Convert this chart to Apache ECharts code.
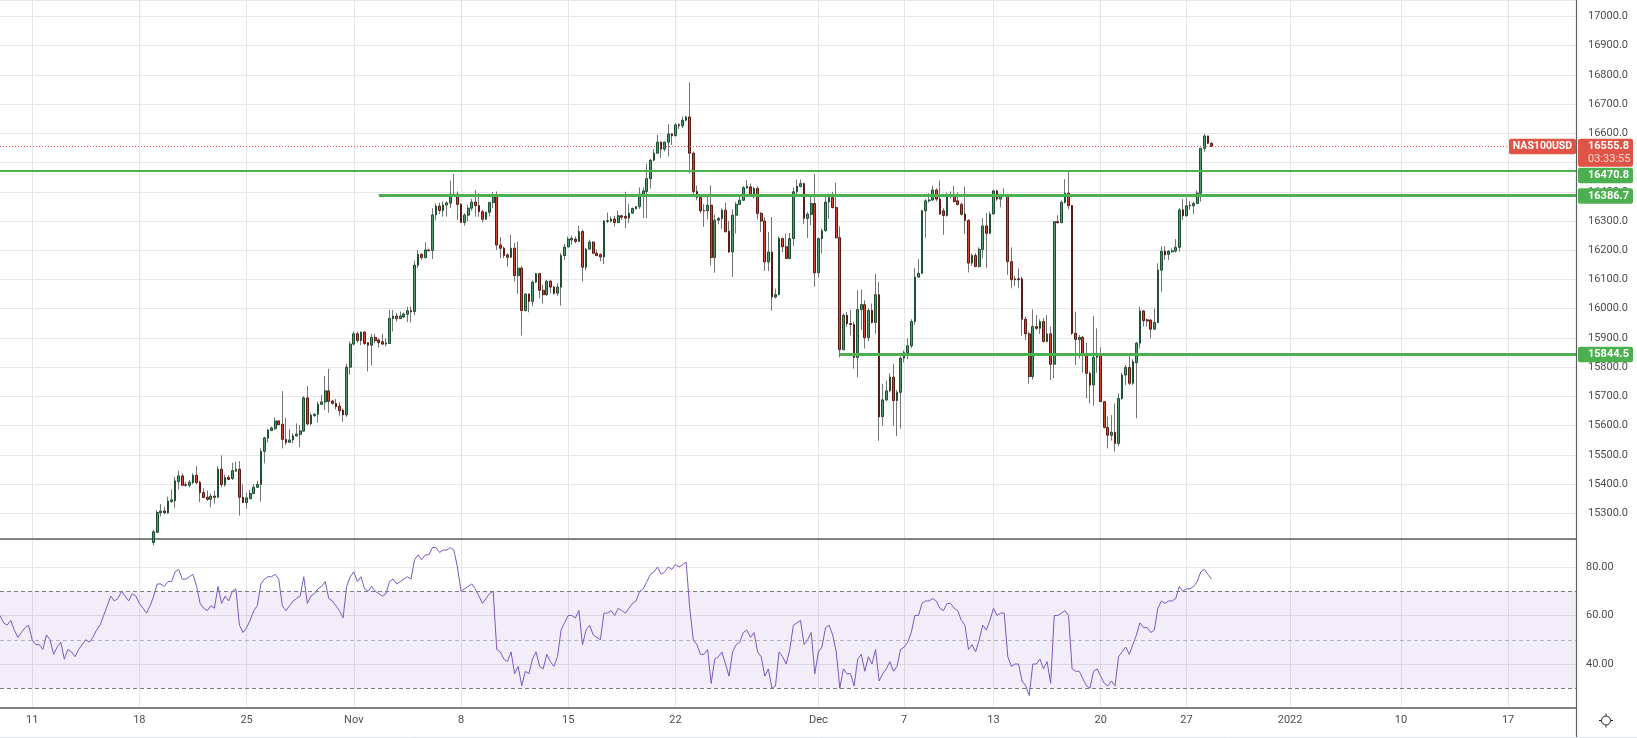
<!DOCTYPE html>
<html><head><meta charset="utf-8">
<script src="https://cdn.jsdelivr.net/npm/echarts@6/dist/echarts.min.js"></script>
<style>html,body{margin:0;padding:0;background:#fff;}#c{width:1637px;height:738px;}</style>
</head><body><div id="c"></div>
<script>
// ---- slots (4h bars), index 0 = first bar of the week of Oct 18 ----
const firstBarIdx = -39, lastSlotIdx = 402, firstCandleIdx = 4;
const tickIdx  = [-30, 0, 30, 60, 90, 120, 150, 190, 214, 239, 269, 293, 322, 353, 383];
const tickText = ['11','18','25','Nov','8','15','22','Dec','7','13','20','27','2022','10','17'];

// ---- candles, bars 4..300 ----
const opens = [
15200,15235,15302,15308,15302,15340,15343,15408,15428,15398,
15396,15405,15430,15406,15371,15355,15348,15359,15355,15451,
15398,15423,15419,15444,15451,15355,15337,15350,15368,15389,
15399,15512,15557,15583,15590,15616,15605,15553,15543,15551,
15565,15570,15581,15695,15606,15634,15639,15673,15681,15719,
15684,15676,15667,15653,15637,15800,15879,15914,15891,15920,
15884,15875,15902,15893,15887,15879,15881,15966,15975,15966,
15972,15981,15993,15990,16149,16186,16175,16201,16199,16321,
16351,16336,16355,16361,16392,16392,16357,16295,16320,16344,
16365,16353,16332,16306,16330,16363,16386,16218,16207,16184,
16176,16207,16113,16139,15994,16050,16025,16091,16120,16063,
16048,16094,16074,16053,16074,16182,16211,16235,16238,16230,
16264,16142,16204,16228,16190,16185,16177,16299,16300,16307,
16295,16318,16316,16310,16327,16342,16349,16390,16401,16445,
16508,16532,16570,16546,16570,16598,16592,16629,16626,16645,
16656,16532,16401,16381,16336,16335,16354,16175,16303,16309,
16337,16265,16194,16320,16357,16371,16413,16417,16391,16411,
16326,16300,16160,16194,16040,16048,16240,16212,16172,16240,
16400,16418,16428,16309,16323,16360,16123,16240,16267,16365,
16380,16346,16243,15860,15978,15949,15946,15833,15997,16014,
15901,15994,15953,16048,15631,15688,15719,15766,15686,15714,
15831,15850,15873,15956,16108,16121,16335,16369,16372,16406,
16375,16335,16319,16384,16391,16369,16357,16324,16302,16156,
16182,16144,16203,16283,16258,16324,16403,16375,16389,16386,
16161,16102,16102,16102,15964,15914,15768,15939,15933,15956,
15888,15914,15810,16298,16294,16364,16395,16353,15916,15895,
15902,15844,15779,15739,15834,15844,15682,15594,15567,15577,
15539,15693,15773,15799,15745,15815,15882,15992,15962,15961,
15930,15953,16132,16197,16186,16195,16197,16210,16338,16318,
16354,16352,16360,16395,16549,16591,16566];
const highs = [
15243,15311,15332,15323,15357,15382,15425,15445,15437,15407,
15414,15437,15462,15412,15386,15378,15368,15378,15462,15498,
15433,15431,15473,15476,15479,15399,15370,15380,15400,15412,
15522,15562,15589,15597,15628,15619,15718,15627,15589,15574,
15608,15602,15701,15736,15644,15642,15682,15705,15770,15794,
15688,15691,15680,15659,15812,15888,15922,15922,15922,15922,
15885,15914,15914,15899,15914,15899,15996,15996,15985,15990,
15987,16007,16007,16164,16201,16190,16227,16205,16344,16361,
16363,16367,16367,16438,16461,16401,16361,16327,16355,16376,
16406,16395,16338,16332,16367,16399,16401,16245,16213,16190,
16253,16226,16230,16145,16053,16053,16096,16122,16122,16082,
16099,16099,16079,16088,16190,16222,16247,16250,16247,16284,
16270,16207,16236,16231,16202,16190,16304,16329,16316,16318,
16336,16321,16400,16359,16346,16352,16415,16415,16496,16512,
16546,16595,16572,16572,16632,16601,16635,16635,16658,16660,
16774,16538,16421,16383,16357,16383,16422,16323,16314,16343,
16362,16300,16339,16365,16383,16419,16440,16428,16417,16419,
16331,16314,16263,16314,16069,16248,16243,16257,16259,16415,
16442,16442,16431,16331,16383,16460,16243,16274,16383,16394,
16400,16431,16282,15984,15989,15995,15955,16063,16066,16029,
16001,16018,16120,16092,15743,15754,15779,15811,15722,15837,
15857,15899,15964,16139,16170,16338,16375,16395,16421,16412,
16438,16344,16397,16401,16420,16398,16363,16418,16306,16188,
16190,16210,16310,16327,16332,16407,16407,16393,16412,16389,
16210,16112,16138,16110,15973,15922,15998,15979,15964,15968,
15979,15939,16298,16320,16370,16443,16469,16355,15990,15910,
15907,15884,15785,15975,15933,15868,15684,15631,15636,15676,
15710,15781,15807,15847,15827,15887,16007,15996,15966,15964,
16001,16155,16214,16214,16201,16207,16238,16344,16375,16381,
16368,16366,16404,16549,16598,16592,16569];
const lows = [
15190,15233,15289,15298,15298,15336,15319,15382,15396,15391,
15389,15400,15400,15338,15354,15343,15321,15334,15355,15389,
15391,15414,15414,15444,15292,15337,15316,15350,15366,15389,
15340,15471,15542,15583,15585,15603,15522,15534,15543,15540,
15562,15526,15581,15600,15602,15631,15611,15671,15654,15644,
15672,15656,15634,15613,15630,15774,15875,15884,15876,15876,
15785,15806,15882,15867,15876,15871,15881,15922,15956,15966,
15968,15954,15953,15978,16139,16167,16172,16196,16170,16302,
16324,16315,16315,16344,16386,16304,16295,16284,16298,16336,
16315,16315,16295,16304,16315,16344,16201,16173,16173,16144,
16173,16093,16051,15908,15991,15988,16008,16088,16035,16017,
16044,16053,16048,16044,16011,16167,16211,16219,16224,16230,
16093,16131,16202,16188,16179,16162,16153,16293,16295,16281,
16293,16304,16276,16293,16325,16339,16341,16310,16310,16411,
16504,16530,16515,16538,16521,16560,16589,16614,16618,16641,
16464,16385,16371,16326,16280,16306,16147,16123,16289,16274,
16263,16191,16109,16257,16354,16369,16411,16383,16377,16305,
16263,16129,16129,15993,16035,16046,16194,16172,16168,16214,
16385,16415,16289,16242,16286,16075,16106,16189,16263,16308,
16343,16240,15833,15858,15938,15909,15795,15765,15927,15864,
15889,15949,15915,15548,15600,15684,15714,15600,15565,15590,
15816,15827,15865,15945,16108,16121,16243,16363,16369,16367,
16321,16253,16315,16378,16363,16352,16318,16256,16124,16147,
16144,16142,16173,16139,16256,16324,16369,16347,16384,16116,
16070,16078,16070,15908,15893,15743,15757,15927,15914,15884,
15884,15756,15762,16292,16294,16360,16340,15910,15807,15830,
15781,15693,15676,15668,15781,15682,15591,15522,15549,15511,
15530,15688,15739,15739,15739,15625,15864,15939,15939,15899,
15927,15950,16058,16167,16167,16192,16192,16195,16303,16315,
16338,16324,16360,16366,16537,16563,16554];
const closes = [
15237,15303,15308,15302,15342,15346,15411,15428,15396,15396,
15406,15430,15405,15371,15354,15348,15359,15355,15451,15398,
15423,15416,15446,15451,15355,15337,15353,15368,15389,15399,
15512,15558,15585,15592,15616,15603,15553,15542,15551,15565,
15571,15582,15695,15606,15636,15639,15673,15681,15719,15683,
15676,15665,15651,15637,15800,15879,15914,15891,15920,15881,
15875,15902,15891,15884,15879,15883,15967,15975,15966,15975,
15982,15993,15989,16149,16186,16175,16201,16199,16321,16351,
16336,16355,16362,16392,16386,16357,16295,16320,16344,16365,
16353,16332,16306,16330,16363,16386,16218,16207,16182,16176,
16207,16113,16139,15994,16050,16025,16091,16120,16063,16048,
16094,16074,16053,16074,16182,16211,16238,16241,16230,16264,
16142,16204,16228,16190,16182,16177,16300,16301,16307,16295,
16318,16313,16310,16327,16343,16349,16392,16403,16445,16508,
16532,16570,16546,16570,16598,16592,16629,16626,16645,16656,
16532,16401,16381,16335,16334,16354,16175,16303,16309,16337,
16263,16194,16320,16357,16371,16414,16419,16391,16411,16326,
16300,16160,16194,16040,16048,16240,16212,16172,16240,16400,
16419,16428,16309,16323,16360,16123,16240,16267,16365,16380,
16346,16243,15860,15978,15949,15946,15833,15997,16014,15901,
15994,15953,16048,15630,15688,15719,15766,15686,15714,15831,
15850,15873,15956,16108,16121,16335,16369,16372,16406,16375,
16324,16319,16384,16391,16367,16357,16323,16302,16156,16182,
16144,16203,16283,16258,16324,16403,16375,16389,16386,16161,
16099,16099,16099,15964,15914,15768,15939,15933,15956,15888,
15914,15810,16298,16294,16364,16395,16353,15916,15895,15902,
15844,15779,15739,15834,15844,15682,15594,15567,15577,15539,
15693,15773,15799,15745,15819,15882,15992,15959,15958,15930,
15953,16132,16197,16184,16197,16198,16210,16338,16318,16352,
16352,16360,16395,16549,16591,16566,16555.8];

// ---- RSI(14), bars -39..300 ----
const rsi = [
60,57,56,58,54,51,53,55,56,50,
48,48,46,52,50,44,47,49,42,46,
45,43,46,48,50,49,51,54,56,60,
64,68,66,67,70,68,66,69,68,65,
63,61,64,68,73,73,72,74,74,78,
79,75,75,76,77,72,65,63,62,64,
63,72,65,68,66,70,71,56,53,55,
58,62,64,73,75,76,76,77,75,64,
62,64,66,67,68,76,65,68,69,71,
72,74,67,66,64,62,59,72,76,78,
74,76,71,70,72,70,69,68,69,74,
75,73,74,75,76,75,83,85,83,85,
85,88,88,86,87,87,88,87,80,70,
71,72,73,71,68,65,67,69,70,46,
45,42,41,45,36,39,31,37,36,42,
45,39,38,44,41,39,43,54,57,60,
60,59,62,48,54,56,52,51,50,61,
61,62,60,63,62,61,63,65,66,70,
71,74,77,78,80,77,78,80,79,81,
80,81,82,63,50,48,44,44,46,32,
42,43,45,40,35,45,48,49,53,54,
51,53,45,43,35,38,30,31,45,43,
40,46,56,57,58,48,50,53,36,45,
47,55,56,52,45,30,38,36,36,31,
42,44,37,43,40,46,33,36,38,41,
37,39,46,47,49,53,60,60,65,66,
66,67,66,63,62,65,65,63,62,58,
56,46,48,45,50,56,54,58,63,60,
61,61,43,39,40,40,33,31,27,40,
40,42,38,41,32,60,60,61,62,60,
38,37,37,34,31,30,37,38,35,32,
31,33,31,43,45,47,44,48,52,57,
55,55,53,54,63,66,65,66,66,67,
72,70,71,71,72,74,78,79,77,75];
const rsiBands = [70, 50, 30];

// ---- horizontal levels ----
const levels = [16470.8, 16386.7, 15844.5];
const levelStart = [-39, 67, 196];
const symbolName = 'NAS100USD';
const countdown = '03:33:55';

// ---------------------------------------------------------------
const chart = echarts.init(document.getElementById('c'), null, {renderer: 'canvas', width: 1637, height: 738});
const nSlots = lastSlotIdx - firstBarIdx + 1;
const categories = Array.from({length: nSlots}, (_, k) => String(k + firstBarIdx));
const ord = i => i - firstBarIdx;
const tickMap = new Map(tickIdx.map((t, j) => [ord(t), tickText[j]]));
const lastClose = closes[closes.length - 1];

const EMPTY = ['-', '-', '-', '-'];
const wickData = [], bodyData = [], rsiData = [];
for (let k = 0; k < nSlots; k++) {
  const i = k + firstBarIdx;
  const b = i - firstCandleIdx;
  if (b >= 0 && b < opens.length) {
    wickData.push([lows[b], highs[b], lows[b], highs[b]]);
    const o = opens[b], c = closes[b];
    bodyData.push([o, c, Math.min(o, c), Math.max(o, c)]);
  } else { wickData.push(EMPTY); bodyData.push(EMPTY); }
  rsiData.push(k < rsi.length ? rsi[k] : '-');
}

const GRID = '#e6e6e6', TXT = '#4c4c4c', FONT = 'Roboto, "Liberation Sans", sans-serif';
const green = '#4caf50', red = '#df5446';

const splitFn = (index) => tickMap.has(index);

const levelLines = levels.map((lv, j) => [
  {coord: [categories[ord(levelStart[j])], lv], lineStyle: {color: green, width: j === 0 ? 2 : 3, type: 'solid'}},
  {coord: [categories[ord(lastSlotIdx)], lv]}
]);

const option = {
  animation: false,
  backgroundColor: '#ffffff',
  textStyle: {fontFamily: FONT},
  grid: [
    {left: 0, right: 61, top: 0, height: 539, containLabel: false},
    {left: 0, right: 61, top: 539, height: 169, containLabel: false}
  ],
  xAxis: [
    {type: 'category', gridIndex: 0, data: categories, boundaryGap: false,
     axisLine: {show: true, onZero: false, lineStyle: {color: '#5d5d5d', width: 1.5}},
     axisTick: {show: false}, axisLabel: {show: false},
     splitLine: {show: true, interval: splitFn, lineStyle: {color: GRID, width: 1}}},
    {type: 'category', gridIndex: 1, data: categories, boundaryGap: false,
     axisLine: {show: true, onZero: false, lineStyle: {color: '#5d5d5d', width: 1.5}},
     axisTick: {show: false},
     axisLabel: {show: true, interval: splitFn, margin: 7, fontSize: 11, color: TXT, fontFamily: FONT,
       formatter: (v, idx) => tickMap.get(Number(v) - firstBarIdx) || ''},
     splitLine: {show: true, interval: splitFn, lineStyle: {color: GRID, width: 1}}}
  ],
  yAxis: [
    {type: 'value', gridIndex: 0, position: 'right', scale: true,
     min: 15212.2, max: 17056.1, minInterval: 100, maxInterval: 100,
     axisLine: {show: false}, axisTick: {show: false},
     axisLabel: {margin: 12, fontSize: 11, color: TXT, fontFamily: FONT, align: 'left',
       formatter: v => (Math.abs(v / 100 - Math.round(v / 100)) < 1e-6 ? v.toFixed(1) : '')},
     splitLine: {show: true, lineStyle: {color: GRID, width: 1}}},
    {type: 'value', gridIndex: 1, position: 'right', scale: true,
     min: 21.86, max: 91.55, minInterval: 20, maxInterval: 20,
     axisLine: {show: false}, axisTick: {show: false},
     axisLabel: {margin: 10, fontSize: 11, color: TXT, fontFamily: FONT, align: 'left',
       formatter: v => (Math.abs(v / 20 - Math.round(v / 20)) < 1e-6 ? v.toFixed(2) : '')},
     splitLine: {show: true, lineStyle: {color: GRID, width: 1}}}
  ],
  series: [
    {name: 'wick', type: 'candlestick', xAxisIndex: 0, yAxisIndex: 0, data: wickData,
     barWidth: 1, clip: true, silent: true,
     itemStyle: {color: '#757575', color0: '#757575', borderColor: '#757575', borderColor0: '#757575', borderWidth: 1}},
    {name: 'NAS100USD', type: 'candlestick', xAxisIndex: 0, yAxisIndex: 0, data: bodyData,
     barWidth: 2.2, clip: true, silent: true,
     itemStyle: {color: '#4a9a6c', color0: '#d8432f', borderColor: '#1d4f32', borderColor0: '#5c1a12', borderWidth: 1},
     markLine: {silent: true, symbol: 'none', animation: false, label: {show: false},
       data: levelLines.concat([
         {yAxis: lastClose, lineStyle: {color: '#ef5350', width: 1, type: [1, 2]}}
       ])}},
    {name: 'RSI', type: 'line', xAxisIndex: 1, yAxisIndex: 1, data: rsiData,
     symbol: 'none', silent: true, lineStyle: {color: '#7e57c2', width: 1}, clip: true,
     markArea: {silent: true, itemStyle: {color: 'rgba(126,87,194,0.1)'},
       data: [[{yAxis: rsiBands[2]}, {yAxis: rsiBands[0]}]]},
     markLine: {silent: true, symbol: 'none', label: {show: false},
       data: rsiBands.map((b, j) => ({yAxis: b,
         lineStyle: {color: j === 1 ? 'rgba(120,123,134,0.5)' : '#787b86', width: 1, type: [4, 3]}}))}}
  ],
  graphic: []
};
chart.setOption(option);

// ---- price-scale badges (positions from the axis scale) ----
const yPix = p => chart.convertToPixel({yAxisIndex: 0}, p);
const bx = 1578, bw = 55;
const badges = [{kind: 'price', value: lastClose, y: yPix(lastClose)}]
  .concat(levels.map(v => ({kind: 'level', value: v, y: yPix(v)})))
  .sort((a, b) => a.y - b.y);
let prevBottom = -Infinity;
const els = [];
badges.forEach(bd => {
  const h = bd.kind === 'price' ? 28 : 15.5;
  let top = bd.y - 7.5;
  if (top < prevBottom + 1) top = prevBottom + 1;
  prevBottom = top + h;
  const fill = bd.kind === 'price' ? red : green;
  els.push({type: 'rect', z: 100, shape: {x: bx, y: top, width: bw, height: h, r: 2}, style: {fill}});
  els.push({type: 'text', z: 101, x: bx + 10, y: top + 7.75,
    style: {text: bd.value.toFixed(1), fill: '#ffffff', font: 'bold 11px ' + FONT, textAlign: 'left', textVerticalAlign: 'middle'}});
  if (bd.kind === 'price') {
    els.push({type: 'text', z: 101, x: bx + 10, y: top + 21,
      style: {text: countdown, fill: 'rgba(255,255,255,0.78)', font: '11px ' + FONT, textAlign: 'left', textVerticalAlign: 'middle'}});
    els.push({type: 'rect', z: 100, shape: {x: 1509, y: top, width: 67, height: 15.5, r: 2}, style: {fill: red}});
    els.push({type: 'text', z: 101, x: 1542.5, y: top + 7.75,
      style: {text: symbolName, fill: '#ffffff', font: 'bold 10.5px ' + FONT, textAlign: 'center', textVerticalAlign: 'middle'}});
  }
});
// frame lines and settings icon
els.push({type: 'line', z: 90, shape: {x1: 1576.5, y1: 0, x2: 1576.5, y2: 737}, style: {stroke: '#5d5d5d', lineWidth: 1.2}});
els.push({type: 'line', z: 90, shape: {x1: 0, y1: 737.5, x2: 1637, y2: 737.5}, style: {stroke: '#e0e3eb', lineWidth: 1}});
els.push({type: 'circle', z: 90, shape: {cx: 1606, cy: 720.5, r: 4.5}, style: {fill: 'none', stroke: '#131722', lineWidth: 1}});
[[0, -7, 0, -5], [0, 5, 0, 7], [-7, 0, -5, 0], [5, 0, 7, 0]].forEach(s => {
  els.push({type: 'line', z: 90, shape: {x1: 1606 + s[0], y1: 720.5 + s[1], x2: 1606 + s[2], y2: 720.5 + s[3]}, style: {stroke: '#131722', lineWidth: 1}});
});
chart.setOption({graphic: els});
</script>
</body></html>
